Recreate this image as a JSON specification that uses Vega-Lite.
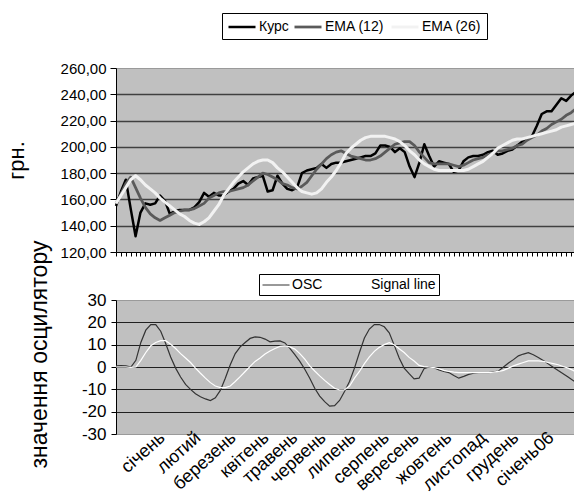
{
  "$schema": "https://vega.github.io/schema/vega-lite/v6.json",
  "background": "#ffffff",
  "padding": {"left": 4, "top": 12, "right": 0, "bottom": 0},
  "autosize": {"type": "pad"},
  "config": {
    "font": "Liberation Sans",
    "view": {"fill": "#C0C0C0", "stroke": "#9a9a9a", "strokeWidth": 1},
    "axis": {"labelFont": "Liberation Sans", "labelFontSize": 15, "labelColor": "#000", "titleFont": "Liberation Sans", "titleFontWeight": "normal", "titleColor": "#000", "domainColor": "#000", "tickColor": "#000", "gridOpacity": 1, "labelFlush": false},
    "legend": {"labelFont": "Liberation Sans", "labelFontSize": 14, "labelColor": "#000", "strokeColor": "#000", "fillColor": "#fff", "cornerRadius": 0, "symbolType": "M-1,0H2.6", "symbolSize": 225, "labelOffset": 14, "orient": "none", "direction": "horizontal", "title": null}
  },
  "datasets": {
    "top": [
      {"i":0,"k":155,"e12":157,"e26":157},{"i":1,"k":166,"e12":164,"e26":163},{"i":2,"k":175,"e12":172,"e26":169},{"i":3,"k":153,"e12":177,"e26":175},{"i":4,"k":132,"e12":169,"e26":178},
      {"i":5,"k":150,"e12":161,"e26":175},{"i":6,"k":157,"e12":154,"e26":171},{"i":7,"k":156,"e12":149,"e26":168},{"i":8,"k":157,"e12":146,"e26":165},{"i":9,"k":163,"e12":144,"e26":161},
      {"i":10,"k":159,"e12":146,"e26":158},{"i":11,"k":149,"e12":148,"e26":155},{"i":12,"k":151,"e12":150,"e26":152},{"i":13,"k":152,"e12":151,"e26":149},{"i":14,"k":152,"e12":152,"e26":147},
      {"i":15,"k":152,"e12":152,"e26":144},{"i":16,"k":154,"e12":153,"e26":142},{"i":17,"k":158,"e12":155,"e26":141},{"i":18,"k":165,"e12":157,"e26":143},{"i":19,"k":162,"e12":161,"e26":146},
      {"i":20,"k":165,"e12":163,"e26":151},{"i":21,"k":163,"e12":165,"e26":156},{"i":22,"k":163,"e12":166,"e26":163},{"i":23,"k":166,"e12":166,"e26":168},{"i":24,"k":168,"e12":167,"e26":173},
      {"i":25,"k":172,"e12":168,"e26":177},{"i":26,"k":174,"e12":169,"e26":181},{"i":27,"k":171,"e12":171,"e26":184},{"i":28,"k":176,"e12":174,"e26":187},{"i":29,"k":177,"e12":177,"e26":189},
      {"i":30,"k":178,"e12":180,"e26":190},{"i":31,"k":166,"e12":179,"e26":190},{"i":32,"k":167,"e12":177,"e26":188},{"i":33,"k":178,"e12":175,"e26":184},{"i":34,"k":172,"e12":172,"e26":181},
      {"i":35,"k":168,"e12":171,"e26":177},{"i":36,"k":167,"e12":169,"e26":173},{"i":37,"k":169,"e12":168,"e26":169},{"i":38,"k":180,"e12":170,"e26":166},{"i":39,"k":182,"e12":173,"e26":165},
      {"i":40,"k":183,"e12":178,"e26":164},{"i":41,"k":184,"e12":183,"e26":165},{"i":42,"k":187,"e12":187,"e26":168},{"i":43,"k":184,"e12":191,"e26":173},{"i":44,"k":187,"e12":194,"e26":177},
      {"i":45,"k":188,"e12":196,"e26":182},{"i":46,"k":188,"e12":197,"e26":188},{"i":47,"k":189,"e12":195,"e26":195},{"i":48,"k":190,"e12":193,"e26":199},{"i":49,"k":191,"e12":192,"e26":202},
      {"i":50,"k":192,"e12":191,"e26":205},{"i":51,"k":193,"e12":190,"e26":207},{"i":52,"k":193,"e12":190,"e26":208},{"i":53,"k":195,"e12":191,"e26":208},{"i":54,"k":201,"e12":193,"e26":208},
      {"i":55,"k":201,"e12":196,"e26":208},{"i":56,"k":200,"e12":199,"e26":207},{"i":57,"k":196,"e12":202,"e26":206},{"i":58,"k":199,"e12":203,"e26":204},{"i":59,"k":196,"e12":204,"e26":201},
      {"i":60,"k":185,"e12":204,"e26":197},{"i":61,"k":177,"e12":201,"e26":194},{"i":62,"k":188,"e12":196,"e26":190},{"i":63,"k":202,"e12":192,"e26":187},{"i":64,"k":193,"e12":188,"e26":185},
      {"i":65,"k":185,"e12":187,"e26":183},{"i":66,"k":189,"e12":187,"e26":182},{"i":67,"k":188,"e12":187,"e26":182},{"i":68,"k":187,"e12":187,"e26":182},{"i":69,"k":181,"e12":186,"e26":182},
      {"i":70,"k":182,"e12":185,"e26":182},{"i":71,"k":189,"e12":186,"e26":182},{"i":72,"k":192,"e12":188,"e26":183},{"i":73,"k":193,"e12":190,"e26":185},{"i":74,"k":193,"e12":191,"e26":187},
      {"i":75,"k":194,"e12":192,"e26":189},{"i":76,"k":196,"e12":194,"e26":192},{"i":77,"k":197,"e12":195,"e26":195},{"i":78,"k":194,"e12":197,"e26":199},{"i":79,"k":195,"e12":197,"e26":201},
      {"i":80,"k":197,"e12":198,"e26":203},{"i":81,"k":198,"e12":199,"e26":205},{"i":82,"k":201,"e12":201,"e26":206},{"i":83,"k":204,"e12":202,"e26":206},{"i":84,"k":206,"e12":205,"e26":207},
      {"i":85,"k":208,"e12":207,"e26":208},{"i":86,"k":216,"e12":209,"e26":209},{"i":87,"k":225,"e12":212,"e26":210},{"i":88,"k":227,"e12":214,"e26":211},{"i":89,"k":227,"e12":217,"e26":212},
      {"i":90,"k":232,"e12":219,"e26":213},{"i":91,"k":237,"e12":221,"e26":215},{"i":92,"k":235,"e12":224,"e26":216},{"i":93,"k":239,"e12":226,"e26":217},{"i":94,"k":242,"e12":229,"e26":218}
    ],
    "bottom": [
      {"i":0,"osc":0.5,"sig":0},{"i":1,"osc":0.6,"sig":0},{"i":2,"osc":0.5,"sig":0},{"i":3,"osc":0,"sig":-0.2},{"i":4,"osc":3,"sig":0},
      {"i":5,"osc":11,"sig":3},{"i":6,"osc":16.5,"sig":6.5},{"i":7,"osc":19,"sig":9.5},{"i":8,"osc":19,"sig":11},{"i":9,"osc":16,"sig":11.8},
      {"i":10,"osc":10.5,"sig":11.8},{"i":11,"osc":4.5,"sig":10.2},{"i":12,"osc":-0.5,"sig":8.3},{"i":13,"osc":-4.5,"sig":6},{"i":14,"osc":-7.8,"sig":4},
      {"i":15,"osc":-10,"sig":2},{"i":16,"osc":-12,"sig":-0.5},{"i":17,"osc":-13.3,"sig":-2.8},{"i":18,"osc":-14.3,"sig":-5},{"i":19,"osc":-15,"sig":-7},
      {"i":20,"osc":-13.8,"sig":-8.5},{"i":21,"osc":-10.5,"sig":-9.2},{"i":22,"osc":-5,"sig":-9.2},{"i":23,"osc":1,"sig":-8.5},{"i":24,"osc":6,"sig":-6.5},
      {"i":25,"osc":9,"sig":-4.3},{"i":26,"osc":11,"sig":-2},{"i":27,"osc":12.8,"sig":0.3},{"i":28,"osc":13.5,"sig":2.5},{"i":29,"osc":13.3,"sig":4},
      {"i":30,"osc":12.5,"sig":5.8},{"i":31,"osc":11.3,"sig":7.2},{"i":32,"osc":11.6,"sig":8.3},{"i":33,"osc":11.7,"sig":9.2},{"i":34,"osc":10.8,"sig":9.5},
      {"i":35,"osc":8.3,"sig":9},{"i":36,"osc":5.5,"sig":8},{"i":37,"osc":2.5,"sig":6},{"i":38,"osc":-1,"sig":3.5},{"i":39,"osc":-5,"sig":0.5},
      {"i":40,"osc":-9.5,"sig":-1.8},{"i":41,"osc":-13,"sig":-4},{"i":42,"osc":-15.5,"sig":-6},{"i":43,"osc":-17.5,"sig":-7.8},{"i":44,"osc":-17.3,"sig":-9.5},
      {"i":45,"osc":-15,"sig":-10.3},{"i":46,"osc":-11,"sig":-10.2},{"i":47,"osc":-6.5,"sig":-8.5},{"i":48,"osc":-0.5,"sig":-5},{"i":49,"osc":6.5,"sig":-2},
      {"i":50,"osc":13,"sig":1.5},{"i":51,"osc":17,"sig":4.5},{"i":52,"osc":19,"sig":7},{"i":53,"osc":19,"sig":8.8},{"i":54,"osc":18,"sig":10},
      {"i":55,"osc":15.3,"sig":10.9},{"i":56,"osc":9.8,"sig":10},{"i":57,"osc":4,"sig":8.2},{"i":58,"osc":-0.5,"sig":6.5},{"i":59,"osc":-3,"sig":4.3},
      {"i":60,"osc":-5.3,"sig":2.7},{"i":61,"osc":-5,"sig":0.7},{"i":62,"osc":-0.8,"sig":0.2},{"i":63,"osc":0,"sig":0},{"i":64,"osc":-0.3,"sig":-0.3},
      {"i":65,"osc":-1.3,"sig":-0.8},{"i":66,"osc":-2,"sig":-1.5},{"i":67,"osc":-2.5,"sig":-2},{"i":68,"osc":-3.8,"sig":-2.3},{"i":69,"osc":-5,"sig":-2.5},
      {"i":70,"osc":-4.2,"sig":-2.5},{"i":71,"osc":-3.3,"sig":-2.5},{"i":72,"osc":-2.8,"sig":-2.5},{"i":73,"osc":-2.5,"sig":-2.5},{"i":74,"osc":-2.5,"sig":-2.5},
      {"i":75,"osc":-2.5,"sig":-2.5},{"i":76,"osc":-2.2,"sig":-2.3},{"i":77,"osc":-1.8,"sig":-2},{"i":78,"osc":0,"sig":-1.5},{"i":79,"osc":1.8,"sig":-0.5},
      {"i":80,"osc":3.3,"sig":0.5},{"i":81,"osc":5,"sig":1.3},{"i":82,"osc":5.8,"sig":2},{"i":83,"osc":6.4,"sig":2.7},{"i":84,"osc":5.5,"sig":2.8},
      {"i":85,"osc":4.3,"sig":2.7},{"i":86,"osc":2.9,"sig":2.5},{"i":87,"osc":1.4,"sig":2},{"i":88,"osc":-0.1,"sig":1.5},{"i":89,"osc":-1.6,"sig":1},
      {"i":90,"osc":-3,"sig":0.2},{"i":91,"osc":-4.5,"sig":-0.5},{"i":92,"osc":-6,"sig":-1.5},{"i":93,"osc":-7.5,"sig":-3},{"i":94,"osc":-9,"sig":-4}
    ]
  },
  "align": "none",
  "bounds": "full",
  "spacing": -22,
  "vconcat": [
    {
      "width": 460,
      "height": 184,
      "data": {"name": "top"},
      "transform": [{"fold": ["k", "e12", "e26"], "as": ["series", "value"]}],
      "mark": {"type": "line", "strokeJoin": "round"},
      "encoding": {
        "x": {"field": "i", "type": "quantitative", "scale": {"domain": [0, 94], "nice": false, "zero": false},
          "axis": {"title": null, "labels": false, "grid": false, "tickCount": 94, "tickSize": 4, "domain": true}},
        "y": {"field": "value", "type": "quantitative", "scale": {"domain": [120, 260], "nice": false, "zero": false},
          "axis": {"title": "грн.", "titleFontSize": 22, "titlePadding": 32, "values": [120, 140, 160, 180, 200, 220, 240, 260],
            "labelExpr": "replace(format(datum.value, '.2f'), '.', ',')", "tickSize": 6, "labelPadding": 4,
            "gridColor": {"condition": {"test": "datum.value == 260 || datum.value == 120", "value": "transparent"}, "value": "#404040"}, "gridWidth": 1.3}},
        "color": {"field": "series", "type": "nominal", "scale": {"domain": ["k", "e12", "e26"], "range": ["#000000", "#5a5a5a", "#f2f2f2"]},
          "legend": {"legendX": 106, "legendY": -55, "labelExpr": "datum.label == 'k' ? 'Курс' : datum.label == 'e12' ? 'EMA (12)' : 'EMA (26)'",
            "symbolStrokeWidth": 3, "columnPadding": 0, "padding": 5}},
        "strokeWidth": {"field": "series", "type": "nominal", "scale": {"domain": ["k", "e12", "e26"], "range": [2.5, 3, 3]}, "legend": null}
      }
    },
    {
      "width": 467,
      "height": 134,
      "data": {"name": "bottom"},
      "transform": [{"fold": ["osc", "sig"], "as": ["series", "value"]}],
      "mark": {"type": "line", "strokeWidth": 1.2},
      "encoding": {
        "x": {"field": "i", "type": "quantitative", "scale": {"domain": [0, 94], "nice": false, "zero": false},
          "axis": {"title": null, "grid": false, "domain": false, "ticks": false,
            "values": [9.3, 16.5, 23.6, 30.2, 36, 41.7, 47.7, 54.4, 60.4, 67, 73.9, 80.5, 87.6],
            "labelExpr": "['січень','лютий','березень','квітень','травень','червень','липень','серпень','вересень','жовтень','листопад','грудень','січень06'][indexof([9.3, 16.5, 23.6, 30.2, 36, 41.7, 47.7, 54.4, 60.4, 67, 73.9, 80.5, 87.6], datum.value)]",
            "labelFontSize": 18, "labelAngle": -42, "labelAlign": "right", "labelBaseline": "middle", "labelPadding": 1, "labelOverlap": false, "labelBound": false}},
        "y": {"field": "value", "type": "quantitative", "scale": {"domain": [-30, 30], "nice": false, "zero": false},
          "axis": {"title": ["", "значення осцилятору"], "titleFontSize": 23, "titleLineHeight": 15, "titlePadding": 30, "titleY": 54,
            "values": [-30, -20, -10, 0, 10, 20, 30], "labelExpr": "toString(datum.value)", "labelFontSize": 17, "tickSize": 5, "labelPadding": 5,
            "gridColor": {"condition": {"test": "datum.value == 30 || datum.value == -30", "value": "transparent"}, "value": "#202020"}, "gridWidth": 1}},
        "color": {"field": "series", "type": "nominal", "scale": {"domain": ["osc", "sig"], "range": ["#333333", "#ffffff"]},
          "legend": {"legendX": 143, "legendY": -26, "labelExpr": "datum.label == 'osc' ? 'OSC' : 'Signal line'",
            "symbolStrokeWidth": 1, "columnPadding": 16, "padding": 3}}
      }
    }
  ],
  "resolve": {"scale": {"color": "independent", "strokeWidth": "independent", "x": "independent", "y": "independent"}, "legend": {"color": "independent"}}
}
